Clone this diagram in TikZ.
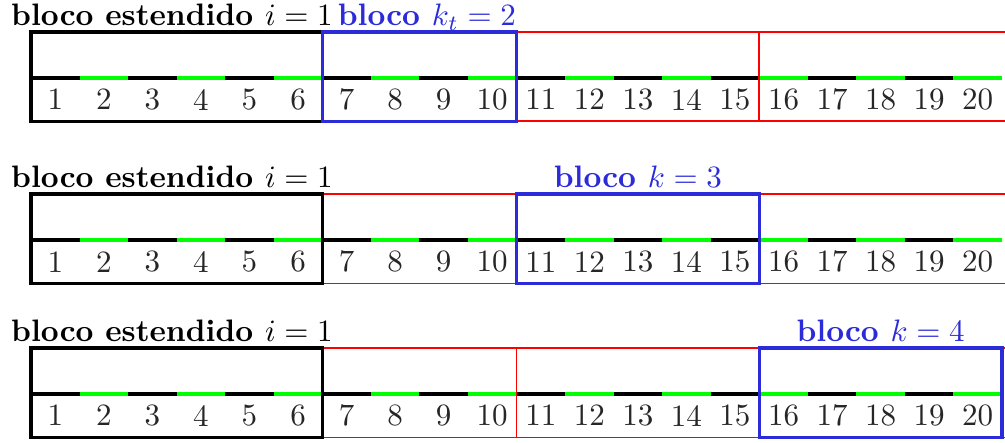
\documentclass[tikz,border=0pt]{standalone}
\usepackage{xcolor}
\usepackage{tikz}
\usetikzlibrary{positioning, calc}
\definecolor{blk-blue}{HTML}{2B2BD9}
\definecolor{blk-red}{HTML}{FF0000}
\definecolor{blk-green}{HTML}{00FF00}

\begin{document}
\begin{tikzpicture}[x=0.55cm, y=0.55cm,
    ext/.style={draw=black, line width=1.1pt},
    blk/.style={draw=blk-blue, line width=1.1pt},
    part/.style={blk-red, line width=0.6pt},
    seg/.style={line width=1.4pt},
    num/.style={text=black!85},
    ttl/.style={font=\bfseries, inner sep=0pt},
]
    \useasboundingbox (-0.6385, 1.600) rectangle (20.062, -7.524);

    \foreach \r/\y/\a/\b/\lx/\la/\lab in {
        1/0/6/10/10/base east/{bloco $k_t=2$},
        2/-3.34/10/15/12.5/base/{bloco $k=3$},
        3/-6.51/15/20/17.5/base/{bloco $k=4$}}
    {
        % Middle line: odd cells black, even cells green
        \foreach \i in {1,3,...,19}
            \draw[seg, black] (\i-1, \y) -- (\i, \y);
        \foreach \i in {2,4,...,20}
            \draw[seg, blk-green] (\i-1, \y) -- (\i, \y);

        % Cell numbers
        \foreach \i in {1,...,20}
            \node[num] (n\r-\i) at (\i-0.5, {\y-0.45}) {\i};

        % Red partition of the blocks
        \draw[part] (6, {\y+0.94}) -- (20.062, {\y+0.94});
        \draw[part] (6, {\y-0.90}) -- (20.062, {\y-0.90});
        \foreach \x in {6,10,15}
            \draw[part] (\x, {\y-0.90}) -- (\x, {\y+0.94});

        % Extended block and current block
        \draw[ext] (0, {\y-0.90}) rectangle (6, {\y+0.94});
        \draw[blk] (\a, {\y-0.90}) rectangle (\b, {\y+0.94});

        % Labels
        \node[ttl, anchor=base west] (ext\r) at (-0.42, {\y+1.07})
            {bloco estendido $i=1$};
        \node[ttl, text=blk-blue, anchor=\la] (lab\r) at (\lx, {\y+1.07})
            {\lab};
    }
\end{tikzpicture}
\end{document}
